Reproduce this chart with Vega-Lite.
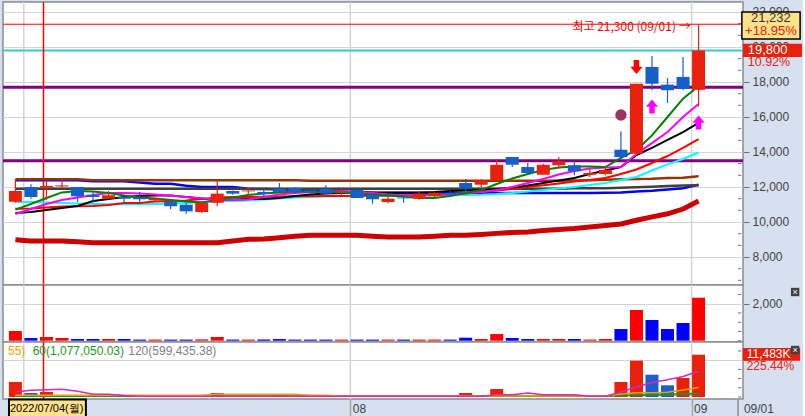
{
"$schema":"https://vega.github.io/schema/vega-lite/v6.json",
"background":"#d6e0ee",
"padding":0,
"spacing":0,
"bounds":"flush",
"config":{"view":{"fill":"white","stroke":"#8c8c8c","strokeWidth":1.5},"text":{"font":"Liberation Sans"},"axis":{"labelFont":"Liberation Sans","labelColor":"#444444","tickColor":"#707070","gridColor":"#d4d4d4","gridWidth":1}},
"datasets":{"d":[
{"i":0,"o":11150,"h":12440,"l":11100,"c":11770,"vol":524,"ind":4073,"id":"up","m5":10710,"m10":10460,"m20":10510,"m40":10760,"m60":11140,"m120":12440,"m150":11900,"m200":12380,"m480":8990,"e1":1358,"e2":462,"e3":300,"e4":200},
{"i":1,"o":12000,"h":12150,"l":11330,"c":11430,"vol":146,"ind":1086,"id":"dn","m5":11030,"m10":10740,"m20":10570,"m40":10770,"m60":11140,"m120":12440,"m150":11900,"m200":12380,"m480":8910,"e1":1800,"e2":462,"e3":300,"e4":200},
{"i":2,"o":11960,"h":12380,"l":11240,"c":12060,"vol":200,"ind":1358,"id":"up","m5":11370,"m10":11030,"m20":10690,"m40":10830,"m60":11110,"m120":12440,"m150":11900,"m200":12380,"m480":8910,"e1":1980,"e2":462,"e3":300,"e4":200},
{"i":3,"o":12030,"h":12383,"l":11880,"c":12090,"vol":146,"ind":540,"id":"dn","m5":11690,"m10":11260,"m20":10800,"m40":10890,"m60":11090,"m120":12440,"m150":11900,"m200":12380,"m480":8910,"e1":2090,"e2":462,"e3":300,"e4":200},
{"i":4,"o":12000,"h":12000,"l":11140,"c":11470,"vol":92,"ind":400,"id":"dn","m5":11770,"m10":11400,"m20":10910,"m40":10900,"m60":11060,"m120":12440,"m150":11900,"m200":12380,"m480":8870,"e1":1550,"e2":462,"e3":300,"e4":200},
{"i":5,"o":11530,"h":11710,"l":11050,"c":11430,"vol":92,"ind":450,"id":"up","m5":11740,"m10":11540,"m20":11200,"m40":10910,"m60":11030,"m120":12380,"m150":11900,"m200":12330,"m480":8820,"e1":733,"e2":462,"e3":300,"e4":200},
{"i":6,"o":11330,"h":11770,"l":11330,"c":11530,"vol":92,"ind":500,"id":"up","m5":11660,"m10":11660,"m20":11310,"m40":10970,"m60":11010,"m120":12380,"m150":11900,"m200":12330,"m480":8820,"e1":733,"e2":462,"e3":300,"e4":200},
{"i":7,"o":11430,"h":11430,"l":11050,"c":11330,"vol":92,"ind":300,"id":"dn","m5":11510,"m10":11660,"m20":11430,"m40":11090,"m60":11010,"m120":12380,"m150":11900,"m200":12330,"m480":8820,"e1":400,"e2":462,"e3":300,"e4":200},
{"i":8,"o":11400,"h":11710,"l":11050,"c":11300,"vol":60,"ind":250,"id":"dn","m5":11400,"m10":11630,"m20":11490,"m40":11090,"m60":11010,"m120":12380,"m150":11900,"m200":12250,"m480":8820,"e1":190,"e2":462,"e3":300,"e4":200},
{"i":9,"o":11240,"h":11400,"l":11200,"c":11330,"vol":60,"ind":300,"id":"up","m5":11340,"m10":11570,"m20":11510,"m40":11170,"m60":11030,"m120":12380,"m150":11900,"m200":12190,"m480":8820,"e1":190,"e2":462,"e3":300,"e4":200},
{"i":10,"o":11140,"h":11300,"l":10730,"c":10900,"vol":60,"ind":350,"id":"up","m5":11260,"m10":11510,"m20":11510,"m40":11200,"m60":11060,"m120":12380,"m150":11900,"m200":12190,"m480":8820,"e1":190,"e2":462,"e3":300,"e4":200},
{"i":11,"o":10990,"h":11100,"l":10470,"c":10610,"vol":60,"ind":300,"id":"dn","m5":11170,"m10":11430,"m20":11430,"m40":11230,"m60":11090,"m120":12380,"m150":11900,"m200":12070,"m480":8820,"e1":190,"e2":462,"e3":300,"e4":200},
{"i":12,"o":10570,"h":11150,"l":10520,"c":11090,"vol":70,"ind":400,"id":"up","m5":11110,"m10":11340,"m20":11340,"m40":11310,"m60":11140,"m120":12380,"m150":11900,"m200":12000,"m480":8820,"e1":190,"e2":462,"e3":300,"e4":200},
{"i":13,"o":11100,"h":12380,"l":10900,"c":11620,"vol":200,"ind":1086,"id":"up","m5":11260,"m10":11290,"m20":11260,"m40":11400,"m60":11170,"m120":12380,"m150":11900,"m200":12000,"m480":8820,"e1":190,"e2":733,"e3":300,"e4":200},
{"i":14,"o":11770,"h":11800,"l":11560,"c":11620,"vol":60,"ind":300,"id":"dn","m5":11400,"m10":11260,"m20":11290,"m40":11430,"m60":11200,"m120":12380,"m150":11900,"m200":12000,"m480":8910,"e1":190,"e2":733,"e3":300,"e4":200},
{"i":15,"o":11750,"h":12000,"l":11430,"c":11800,"vol":60,"ind":350,"id":"up","m5":11540,"m10":11290,"m20":11310,"m40":11430,"m60":11230,"m120":12380,"m150":11900,"m200":11900,"m480":9010,"e1":190,"e2":733,"e3":300,"e4":200},
{"i":16,"o":11710,"h":11840,"l":11430,"c":11620,"vol":60,"ind":300,"id":"dn","m5":11630,"m10":11430,"m20":11310,"m40":11440,"m60":11290,"m120":12380,"m150":11900,"m200":11880,"m480":9030,"e1":190,"e2":733,"e3":300,"e4":200},
{"i":17,"o":11900,"h":12230,"l":11700,"c":11710,"vol":90,"ind":400,"id":"up","m5":11690,"m10":11570,"m20":11370,"m40":11460,"m60":11340,"m120":12380,"m150":11900,"m200":11860,"m480":9100,"e1":190,"e2":733,"e3":300,"e4":200},
{"i":18,"o":11940,"h":12000,"l":11620,"c":11710,"vol":60,"ind":300,"id":"dn","m5":11740,"m10":11660,"m20":11490,"m40":11470,"m60":11400,"m120":12380,"m150":11900,"m200":11840,"m480":9180,"e1":190,"e2":733,"e3":300,"e4":200},
{"i":19,"o":11800,"h":11850,"l":11600,"c":11700,"vol":60,"ind":250,"id":"dn","m5":11740,"m10":11710,"m20":11570,"m40":11470,"m60":11430,"m120":12360,"m150":11900,"m200":11790,"m480":9240,"e1":190,"e2":462,"e3":300,"e4":200},
{"i":20,"o":11900,"h":12100,"l":11560,"c":11620,"vol":60,"ind":300,"id":"up","m5":11710,"m10":11740,"m20":11630,"m40":11490,"m60":11450,"m120":12360,"m150":11900,"m200":11760,"m480":9240,"e1":190,"e2":462,"e3":300,"e4":200},
{"i":21,"o":11680,"h":11940,"l":11520,"c":11750,"vol":60,"ind":250,"id":"dn","m5":11690,"m10":11740,"m20":11660,"m40":11490,"m60":11470,"m120":12360,"m150":11900,"m200":11740,"m480":9240,"e1":190,"e2":271,"e3":300,"e4":200},
{"i":22,"o":11840,"h":11850,"l":11370,"c":11370,"vol":60,"ind":300,"id":"up","m5":11630,"m10":11710,"m20":11660,"m40":11500,"m60":11490,"m120":12360,"m150":11900,"m200":11720,"m480":9240,"e1":190,"e2":271,"e3":300,"e4":200},
{"i":23,"o":11530,"h":11530,"l":11050,"c":11300,"vol":60,"ind":250,"id":"dn","m5":11570,"m10":11660,"m20":11660,"m40":11510,"m60":11490,"m120":12360,"m150":11900,"m200":11690,"m480":9190,"e1":190,"e2":271,"e3":300,"e4":200},
{"i":24,"o":11140,"h":11430,"l":11050,"c":11330,"vol":60,"ind":300,"id":"up","m5":11510,"m10":11570,"m20":11690,"m40":11520,"m60":11490,"m120":12360,"m150":11900,"m200":11660,"m480":9140,"e1":190,"e2":271,"e3":300,"e4":200},
{"i":25,"o":11400,"h":11420,"l":11100,"c":11350,"vol":60,"ind":250,"id":"dn","m5":11460,"m10":11510,"m20":11690,"m40":11530,"m60":11500,"m120":12360,"m150":11900,"m200":11660,"m480":9140,"e1":190,"e2":271,"e3":300,"e4":200},
{"i":26,"o":11330,"h":11770,"l":11270,"c":11620,"vol":60,"ind":300,"id":"up","m5":11370,"m10":11510,"m20":11690,"m40":11540,"m60":11510,"m120":12360,"m150":11900,"m200":11660,"m480":9140,"e1":190,"e2":271,"e3":300,"e4":200},
{"i":27,"o":11470,"h":11700,"l":11420,"c":11670,"vol":60,"ind":250,"id":"dn","m5":11370,"m10":11540,"m20":11710,"m40":11550,"m60":11530,"m120":12360,"m150":11900,"m200":11660,"m480":9190,"e1":190,"e2":271,"e3":300,"e4":200},
{"i":28,"o":11660,"h":11770,"l":11430,"c":11580,"vol":60,"ind":280,"id":"up","m5":11490,"m10":11600,"m20":11770,"m40":11570,"m60":11530,"m120":12360,"m150":11900,"m200":11660,"m480":9240,"e1":190,"e2":271,"e3":300,"e4":200},
{"i":29,"o":12230,"h":12460,"l":11750,"c":11900,"vol":162,"ind":1086,"id":"up","m5":11660,"m10":11660,"m20":11800,"m40":11630,"m60":11540,"m120":12360,"m150":11900,"m200":11660,"m480":9240,"e1":190,"e2":271,"e3":300,"e4":200},
{"i":30,"o":12130,"h":12460,"l":11970,"c":12380,"vol":92,"ind":460,"id":"dn","m5":11830,"m10":11710,"m20":11830,"m40":11710,"m60":11560,"m120":12360,"m150":11900,"m200":11660,"m480":9290,"e1":190,"e2":271,"e3":300,"e4":200},
{"i":31,"o":12380,"h":13580,"l":12380,"c":13270,"vol":360,"ind":2172,"id":"up","m5":12170,"m10":11830,"m20":11890,"m40":11800,"m60":11600,"m120":12360,"m150":11900,"m200":11660,"m480":9350,"e1":624,"e2":271,"e3":300,"e4":200},
{"i":32,"o":13710,"h":13710,"l":13140,"c":13270,"vol":146,"ind":630,"id":"dn","m5":12490,"m10":12000,"m20":11970,"m40":11890,"m60":11660,"m120":12360,"m150":11900,"m200":11660,"m480":9400,"e1":624,"e2":271,"e3":300,"e4":200},
{"i":33,"o":13140,"h":13370,"l":12800,"c":12800,"vol":92,"ind":270,"id":"dn","m5":12740,"m10":12230,"m20":12090,"m40":12000,"m60":11740,"m120":12360,"m150":11900,"m200":11660,"m480":9430,"e1":1086,"e2":271,"e3":300,"e4":200},
{"i":34,"o":12700,"h":13330,"l":12700,"c":13270,"vol":92,"ind":300,"id":"up","m5":12970,"m10":12460,"m20":12230,"m40":12100,"m60":11830,"m120":12360,"m150":11900,"m200":11660,"m480":9510,"e1":624,"e2":271,"e3":300,"e4":200},
{"i":35,"o":13240,"h":13710,"l":13050,"c":13470,"vol":92,"ind":460,"id":"up","m5":13110,"m10":12710,"m20":12370,"m40":12200,"m60":11910,"m120":12360,"m150":11900,"m200":11660,"m480":9570,"e1":624,"e2":271,"e3":300,"e4":200},
{"i":36,"o":13240,"h":13470,"l":12670,"c":12900,"vol":92,"ind":270,"id":"dn","m5":13170,"m10":12910,"m20":12510,"m40":12310,"m60":12000,"m120":12370,"m150":11930,"m200":11660,"m480":9630,"e1":624,"e2":271,"e3":300,"e4":200},
{"i":37,"o":12700,"h":13090,"l":12570,"c":12800,"vol":60,"ind":250,"id":"dn","m5":13170,"m10":13060,"m20":12740,"m40":12400,"m60":12110,"m120":12390,"m150":11930,"m200":11660,"m480":9710,"e1":190,"e2":271,"e3":300,"e4":200},
{"i":38,"o":12740,"h":13200,"l":12670,"c":12970,"vol":92,"ind":360,"id":"up","m5":13140,"m10":13110,"m20":12940,"m40":12510,"m60":12230,"m120":12420,"m150":11930,"m200":11670,"m480":9800,"e1":190,"e2":271,"e3":300,"e4":200},
{"i":39,"o":14130,"h":15180,"l":13620,"c":13710,"vol":632,"ind":4073,"id":"up","m5":13660,"m10":13140,"m20":13140,"m40":12740,"m60":12400,"m120":12440,"m150":11950,"m200":11690,"m480":9890,"e1":1358,"e2":815,"e3":420,"e4":280},
{"i":40,"o":13900,"h":17900,"l":13900,"c":17900,"vol":1659,"ind":9855,"id":"up","m5":14110,"m10":13890,"m20":13830,"m40":13000,"m60":12570,"m120":12450,"m150":11980,"m200":11740,"m480":10100,"e1":2715,"e2":1167,"e3":600,"e4":360},
{"i":41,"o":18860,"h":19490,"l":17530,"c":17900,"vol":1119,"ind":6054,"id":"dn","m5":14950,"m10":14510,"m20":14230,"m40":13370,"m60":12940,"m120":12470,"m150":12020,"m200":11790,"m480":10290,"e1":3937,"e2":1167,"e3":700,"e4":420},
{"i":42,"o":17850,"h":18230,"l":16800,"c":17530,"vol":632,"ind":3177,"id":"dn","m5":16000,"m10":15140,"m20":14690,"m40":13770,"m60":13290,"m120":12510,"m150":12060,"m200":11860,"m480":10470,"e1":4670,"e2":1276,"e3":800,"e4":480},
{"i":43,"o":18290,"h":19430,"l":17530,"c":17600,"vol":957,"ind":5159,"id":"up","m5":17050,"m10":16000,"m20":15140,"m40":14230,"m60":13600,"m120":12530,"m150":12080,"m200":11930,"m480":10740,"e1":5566,"e2":1900,"e3":900,"e4":540},
{"i":44,"o":17550,"h":21300,"l":16600,"c":19800,"vol":2324,"ind":11483,"id":"up","m5":17770,"m10":16740,"m20":15660,"m40":14740,"m60":13970,"m120":12610,"m150":12100,"m200":12130,"m480":11200,"e1":6978,"e2":2580,"e3":1000,"e4":599}
]},
"vconcat":[
{"width":740,"height":283,"data":{"name":"d"},"layer":[
 {"data":{"values":[{"g":0.54},{"g":21.57},{"g":43.55}]},"mark":{"type":"rule","color":"#d4d4d4","strokeWidth":1.5},"encoding":{"x":{"field":"g","type":"quantitative","scale":{"domain":[-0.4765,46.54],"nice":false,"zero":false},"axis":null}}},
 {"data":{"values":[{}]},"mark":{"type":"rule","color":"#800080","strokeWidth":3},"encoding":{"y":{"datum":17700,"type":"quantitative","scale":{"domain":[6400,22571],"nice":false,"zero":false},"axis":{"orient":"right","title":null,"values":[8000,10000,12000,14000,16000,18000,20000,22000],"labelExpr":"format(datum.value, ',')","tickSize":6,"grid":true,"domain":false,"labelFontSize":12,"labelPadding":3,"labelOverlap":false,"labelFlush":false,"labelBound":false}}}},
 {"data":{"values":[{"t":6666.667},{"t":7333.333},{"t":8666.667},{"t":9333.333},{"t":10666.667},{"t":11333.333},{"t":12666.667},{"t":13333.333},{"t":14666.667},{"t":15333.333},{"t":16666.667},{"t":17333.333},{"t":18666.667},{"t":19333.333},{"t":20666.667},{"t":21333.333}]},"mark":{"type":"rule","color":"#707070","strokeWidth":1,"clip":false},"encoding":{"x":{"datum":46.54,"type":"quantitative","scale":{"domain":[-0.4765,46.54],"nice":false,"zero":false},"axis":null},"x2":{"datum":46.75},"y":{"field":"t","type":"quantitative","scale":{"domain":[6400,22571],"nice":false,"zero":false}}}},
 {"data":{"values":[{}]},"mark":{"type":"rule","color":"#800080","strokeWidth":3},"encoding":{"y":{"datum":13500,"type":"quantitative","scale":{"domain":[6400,22571],"nice":false,"zero":false}}}},
 {"data":{"values":[{}]},"mark":{"type":"rule","color":"#33cccc","strokeWidth":2},"encoding":{"y":{"datum":19800,"type":"quantitative","scale":{"domain":[6400,22571],"nice":false,"zero":false}}}},
 {"data":{"values":[{}]},"mark":{"type":"rule","color":"#ff0000","strokeWidth":1},"encoding":{"y":{"datum":21300,"type":"quantitative","scale":{"domain":[6400,22571],"nice":false,"zero":false}}}},
 {"data":{"values":[{}]},"mark":{"type":"rule","color":"#ff0000","strokeWidth":1.5},"encoding":{"x":{"datum":1.81,"type":"quantitative","scale":{"domain":[-0.4765,46.54],"nice":false,"zero":false},"axis":null}}},
 {"mark":{"type":"line","color":"#cc0000","strokeWidth":5,"clip":true},"encoding":{"x":{"field":"i","type":"quantitative","scale":{"domain":[-0.4765,46.54],"nice":false,"zero":false},"axis":null},"y":{"field":"m480","type":"quantitative","scale":{"domain":[6400,22571],"nice":false,"zero":false}}}},
 {"mark":{"type":"line","color":"#0000ff","strokeWidth":2.5,"clip":true},"encoding":{"x":{"field":"i","type":"quantitative","scale":{"domain":[-0.4765,46.54],"nice":false,"zero":false},"axis":null},"y":{"field":"m200","type":"quantitative","scale":{"domain":[6400,22571],"nice":false,"zero":false}}}},
 {"mark":{"type":"line","color":"#404040","strokeWidth":2.5,"clip":true},"encoding":{"x":{"field":"i","type":"quantitative","scale":{"domain":[-0.4765,46.54],"nice":false,"zero":false},"axis":null},"y":{"field":"m150","type":"quantitative","scale":{"domain":[6400,22571],"nice":false,"zero":false}}}},
 {"mark":{"type":"line","color":"#993300","strokeWidth":2.5,"clip":true},"encoding":{"x":{"field":"i","type":"quantitative","scale":{"domain":[-0.4765,46.54],"nice":false,"zero":false},"axis":null},"y":{"field":"m120","type":"quantitative","scale":{"domain":[6400,22571],"nice":false,"zero":false}}}},
 {"mark":{"type":"line","color":"#00ffff","strokeWidth":2,"clip":true},"encoding":{"x":{"field":"i","type":"quantitative","scale":{"domain":[-0.4765,46.54],"nice":false,"zero":false},"axis":null},"y":{"field":"m60","type":"quantitative","scale":{"domain":[6400,22571],"nice":false,"zero":false}}}},
 {"mark":{"type":"line","color":"#ff0000","strokeWidth":2,"clip":true},"encoding":{"x":{"field":"i","type":"quantitative","scale":{"domain":[-0.4765,46.54],"nice":false,"zero":false},"axis":null},"y":{"field":"m40","type":"quantitative","scale":{"domain":[6400,22571],"nice":false,"zero":false}}}},
 {"mark":{"type":"line","color":"#000000","strokeWidth":2,"clip":true},"encoding":{"x":{"field":"i","type":"quantitative","scale":{"domain":[-0.4765,46.54],"nice":false,"zero":false},"axis":null},"y":{"field":"m20","type":"quantitative","scale":{"domain":[6400,22571],"nice":false,"zero":false}}}},
 {"mark":{"type":"line","color":"#ff00ff","strokeWidth":2,"clip":true},"encoding":{"x":{"field":"i","type":"quantitative","scale":{"domain":[-0.4765,46.54],"nice":false,"zero":false},"axis":null},"y":{"field":"m10","type":"quantitative","scale":{"domain":[6400,22571],"nice":false,"zero":false}}}},
 {"mark":{"type":"line","color":"#008000","strokeWidth":2,"clip":true},"encoding":{"x":{"field":"i","type":"quantitative","scale":{"domain":[-0.4765,46.54],"nice":false,"zero":false},"axis":null},"y":{"field":"m5","type":"quantitative","scale":{"domain":[6400,22571],"nice":false,"zero":false}}}},
 {"mark":{"type":"rule","strokeWidth":1.2},"encoding":{"x":{"field":"i","type":"quantitative","scale":{"domain":[-0.4765,46.54],"nice":false,"zero":false},"axis":null},"y":{"field":"l","type":"quantitative","scale":{"domain":[6400,22571],"nice":false,"zero":false}},"y2":{"field":"h"},"color":{"condition":{"test":"datum.c >= datum.o","value":"#e8200c"},"value":"#1560c8"}}},
 {"mark":{"type":"bar","size":13},"encoding":{"x":{"field":"i","type":"quantitative","scale":{"domain":[-0.4765,46.54],"nice":false,"zero":false},"axis":null},"y":{"field":"o","type":"quantitative","scale":{"domain":[6400,22571],"nice":false,"zero":false}},"y2":{"field":"c"},"color":{"condition":{"test":"datum.c >= datum.o","value":"#e8200c"},"value":"#1560c8"}}},
 {"data":{"values":[{"i":39,"p":16110}]},"mark":{"type":"point","shape":"circle","filled":true,"color":"#993366","size":130,"opacity":1},"encoding":{"x":{"field":"i","type":"quantitative","scale":{"domain":[-0.4765,46.54],"nice":false,"zero":false},"axis":null},"y":{"field":"p","type":"quantitative","scale":{"domain":[6400,22571],"nice":false,"zero":false}}}},
 {"data":{"values":[{"i":40,"p":18857}]},"mark":{"type":"point","shape":"M-0.45,-1.15L0.45,-1.15L0.45,-0.05L1,-0.05L0,1.15L-1,-0.05L-0.45,-0.05Z","filled":true,"color":"#ff0000","size":150,"opacity":1,"strokeWidth":0},"encoding":{"x":{"field":"i","type":"quantitative","scale":{"domain":[-0.4765,46.54],"nice":false,"zero":false},"axis":null},"y":{"field":"p","type":"quantitative","scale":{"domain":[6400,22571],"nice":false,"zero":false}}}},
 {"data":{"values":[{"i":41,"p":16600},{"i":44,"p":15686}]},"mark":{"type":"point","shape":"M-0.45,1.15L0.45,1.15L0.45,0.05L1,0.05L0,-1.15L-1,0.05L-0.45,0.05Z","filled":true,"color":"#ff00ff","size":150,"opacity":1,"strokeWidth":0},"encoding":{"x":{"field":"i","type":"quantitative","scale":{"domain":[-0.4765,46.54],"nice":false,"zero":false},"axis":null},"y":{"field":"p","type":"quantitative","scale":{"domain":[6400,22571],"nice":false,"zero":false}}}},
 {"data":{"values":[{}]},"mark":{"type":"text","text":"최고 21,300 (09/01) →","align":"right","baseline":"middle","font":"Noto Sans CJK KR","fontSize":12,"color":"#ff0000"},"encoding":{"x":{"datum":43.49,"type":"quantitative","scale":{"domain":[-0.4765,46.54],"nice":false,"zero":false},"axis":null},"y":{"datum":21130,"type":"quantitative","scale":{"domain":[6400,22571],"nice":false,"zero":false}}}},
 {"data":{"values":[{}]},"mark":{"type":"rect","fill":"#ffe28a","stroke":"#000000","strokeWidth":1.5,"clip":false},"encoding":{"x":{"datum":46.79,"type":"quantitative","scale":{"domain":[-0.4765,46.54],"nice":false,"zero":false},"axis":null},"x2":{"datum":50.54},"y":{"datum":22000,"type":"quantitative","scale":{"domain":[6400,22571],"nice":false,"zero":false}},"y2":{"datum":20457}}},
 {"data":{"values":[{}]},"mark":{"type":"text","text":"21,232","align":"center","baseline":"middle","fontSize":13,"color":"#333333","clip":false},"encoding":{"x":{"datum":48.66,"type":"quantitative","scale":{"domain":[-0.4765,46.54],"nice":false,"zero":false},"axis":null},"y":{"datum":21657,"type":"quantitative","scale":{"domain":[6400,22571],"nice":false,"zero":false}}}},
 {"data":{"values":[{}]},"mark":{"type":"text","text":"+18.95%","align":"center","baseline":"middle","fontSize":13,"color":"#e8200c","clip":false},"encoding":{"x":{"datum":48.66,"type":"quantitative","scale":{"domain":[-0.4765,46.54],"nice":false,"zero":false},"axis":null},"y":{"datum":20886,"type":"quantitative","scale":{"domain":[6400,22571],"nice":false,"zero":false}}}},
 {"data":{"values":[{}]},"mark":{"type":"rect","fill":"#e8200c","clip":false},"encoding":{"x":{"datum":46.85,"type":"quantitative","scale":{"domain":[-0.4765,46.54],"nice":false,"zero":false},"axis":null},"x2":{"datum":50.66},"y":{"datum":20189,"type":"quantitative","scale":{"domain":[6400,22571],"nice":false,"zero":false}},"y2":{"datum":19429}}},
 {"data":{"values":[{}]},"mark":{"type":"text","text":"19,800","align":"left","baseline":"middle","fontSize":13,"color":"#ffffff","clip":false},"encoding":{"x":{"datum":47.17,"type":"quantitative","scale":{"domain":[-0.4765,46.54],"nice":false,"zero":false},"axis":null},"y":{"datum":19829,"type":"quantitative","scale":{"domain":[6400,22571],"nice":false,"zero":false}}}},
 {"data":{"values":[{}]},"mark":{"type":"text","text":"10.92%","align":"left","baseline":"middle","fontSize":12.5,"color":"#e8200c","clip":false},"encoding":{"x":{"datum":47.17,"type":"quantitative","scale":{"domain":[-0.4765,46.54],"nice":false,"zero":false},"axis":null},"y":{"datum":19143,"type":"quantitative","scale":{"domain":[6400,22571],"nice":false,"zero":false}}}}
]},
{"width":740,"height":57,"data":{"name":"d"},"layer":[
 {"data":{"values":[{"g":0.54},{"g":21.57},{"g":43.55}]},"mark":{"type":"rule","color":"#d4d4d4","strokeWidth":1.5},"encoding":{"x":{"field":"g","type":"quantitative","scale":{"domain":[-0.4765,46.54],"nice":false,"zero":false},"axis":null}}},
 {"data":{"values":[{}]},"mark":{"type":"rule","color":"#ff0000","strokeWidth":1.5},"encoding":{"x":{"datum":1.81,"type":"quantitative","scale":{"domain":[-0.4765,46.54],"nice":false,"zero":false},"axis":null}}},
 {"mark":{"type":"bar","size":13},"encoding":{"x":{"field":"i","type":"quantitative","scale":{"domain":[-0.4765,46.54],"nice":false,"zero":false},"axis":null},"y":{"field":"vol","type":"quantitative","scale":{"domain":[-70,3011],"nice":false,"zero":false},"axis":{"orient":"right","title":null,"values":[2000],"labelExpr":"format(datum.value, ',')","tickSize":6,"grid":true,"domain":false,"labelFontSize":12,"labelPadding":3,"labelOverlap":false,"labelFlush":false,"labelBound":false}},"y2":{"datum":0},"color":{"condition":{"test":"datum.c >= datum.o","value":"#ff0000"},"value":"#0000ff"}}},
 {"data":{"values":[{"t":0},{"t":500},{"t":1000},{"t":1500},{"t":2500}]},"mark":{"type":"rule","color":"#707070","strokeWidth":1,"clip":false},"encoding":{"x":{"datum":46.54,"type":"quantitative","scale":{"domain":[-0.4765,46.54],"nice":false,"zero":false},"axis":null},"x2":{"datum":46.75},"y":{"field":"t","type":"quantitative","scale":{"domain":[-70,3011],"nice":false,"zero":false}}}},
 {"data":{"values":[{}]},"mark":{"type":"square","color":"#404040","size":70,"opacity":1,"clip":false},"encoding":{"x":{"datum":50.22,"type":"quantitative","scale":{"domain":[-0.4765,46.54],"nice":false,"zero":false},"axis":null},"y":{"datum":2632,"type":"quantitative","scale":{"domain":[-70,3011],"nice":false,"zero":false}}}},
 {"data":{"values":[{}]},"mark":{"type":"text","text":"×","align":"center","baseline":"middle","fontSize":9,"color":"#ffffff","clip":false},"encoding":{"x":{"datum":50.22,"type":"quantitative","scale":{"domain":[-0.4765,46.54],"nice":false,"zero":false},"axis":null},"y":{"datum":2632,"type":"quantitative","scale":{"domain":[-70,3011],"nice":false,"zero":false}}}}
]},
{"width":740,"height":57,"data":{"name":"d"},"layer":[
 {"data":{"values":[{"g":0.54},{"g":21.57},{"g":43.55}]},"mark":{"type":"rule","color":"#d4d4d4","strokeWidth":1.5},"encoding":{"x":{"field":"g","type":"quantitative","scale":{"domain":[-0.4765,46.54],"nice":false,"zero":false}}}},
 {"data":{"values":[{}]},"mark":{"type":"rule","color":"#ff0000","strokeWidth":1.5},"encoding":{"x":{"datum":1.81,"type":"quantitative","scale":{"domain":[-0.4765,46.54],"nice":false,"zero":false}}}},
 {"mark":{"type":"bar","size":13},"encoding":{"x":{"field":"i","type":"quantitative","scale":{"domain":[-0.4765,46.54],"nice":false,"zero":false},"axis":{"orient":"bottom","title":null,"values":[21.57,43.55],"labelExpr":"datum.value < 30 ? '08' : '09'","tickSize":19,"tickColor":"#a8a8a8","tickWidth":1.5,"labelAlign":"left","labelBaseline":"middle","labelPadding":-10,"labelOffset":2,"labelFontSize":12,"labelColor":"#444444","domain":false,"grid":false,"labelFlush":false,"labelOverlap":false,"labelBound":false}},"y":{"field":"ind","type":"quantitative","scale":{"domain":[-543,14933],"nice":false,"zero":false},"axis":{"orient":"right","title":null,"values":[10000],"labels":false,"tickSize":6,"grid":true,"domain":false}},"y2":{"datum":0},"color":{"field":"id","type":"nominal","scale":{"domain":["up","dn"],"range":["#e8200c","#1a5fcc"]},"legend":null}}},
 {"data":{"values":[{"t":0},{"t":2500},{"t":5000},{"t":7500},{"t":12500}]},"mark":{"type":"rule","color":"#707070","strokeWidth":1,"clip":false},"encoding":{"x":{"datum":46.54,"type":"quantitative","scale":{"domain":[-0.4765,46.54],"nice":false,"zero":false}},"x2":{"datum":46.75},"y":{"field":"t","type":"quantitative","scale":{"domain":[-543,14933],"nice":false,"zero":false}}}},
 {"mark":{"type":"line","color":"#606060","strokeWidth":1,"clip":true},"encoding":{"x":{"field":"i","type":"quantitative","scale":{"domain":[-0.4765,46.54],"nice":false,"zero":false}},"y":{"field":"e4","type":"quantitative","scale":{"domain":[-543,14933],"nice":false,"zero":false}}}},
 {"mark":{"type":"line","color":"#1a9a1a","strokeWidth":1.5,"clip":true},"encoding":{"x":{"field":"i","type":"quantitative","scale":{"domain":[-0.4765,46.54],"nice":false,"zero":false}},"y":{"field":"e3","type":"quantitative","scale":{"domain":[-543,14933],"nice":false,"zero":false}}}},
 {"mark":{"type":"line","color":"#f0a000","strokeWidth":1.5,"clip":true},"encoding":{"x":{"field":"i","type":"quantitative","scale":{"domain":[-0.4765,46.54],"nice":false,"zero":false}},"y":{"field":"e2","type":"quantitative","scale":{"domain":[-543,14933],"nice":false,"zero":false}}}},
 {"mark":{"type":"line","color":"#dc28b4","strokeWidth":1.5,"clip":true},"encoding":{"x":{"field":"i","type":"quantitative","scale":{"domain":[-0.4765,46.54],"nice":false,"zero":false}},"y":{"field":"e1","type":"quantitative","scale":{"domain":[-543,14933],"nice":false,"zero":false}}}},
 {"data":{"values":[{}]},"mark":{"type":"text","text":"55)","align":"left","baseline":"middle","fontSize":12,"color":"#f0a000"},"encoding":{"x":{"datum":-0.4765,"type":"quantitative","scale":{"domain":[-0.4765,46.54],"nice":false,"zero":false}},"y":{"datum":12489,"type":"quantitative","scale":{"domain":[-543,14933],"nice":false,"zero":false}}}},
 {"data":{"values":[{}]},"mark":{"type":"text","text":"60(1,077,050.03)","align":"left","baseline":"middle","fontSize":12,"color":"#1a9a1a"},"encoding":{"x":{"datum":1.11,"type":"quantitative","scale":{"domain":[-0.4765,46.54],"nice":false,"zero":false}},"y":{"datum":12489,"type":"quantitative","scale":{"domain":[-543,14933],"nice":false,"zero":false}}}},
 {"data":{"values":[{}]},"mark":{"type":"text","text":"120(599,435.38)","align":"left","baseline":"middle","fontSize":12,"color":"#808080"},"encoding":{"x":{"datum":7.27,"type":"quantitative","scale":{"domain":[-0.4765,46.54],"nice":false,"zero":false}},"y":{"datum":12489,"type":"quantitative","scale":{"domain":[-543,14933],"nice":false,"zero":false}}}},
 {"data":{"values":[{}]},"mark":{"type":"rect","fill":"#e8200c","clip":false},"encoding":{"x":{"datum":46.85,"type":"quantitative","scale":{"domain":[-0.4765,46.54],"nice":false,"zero":false}},"x2":{"datum":50.54},"y":{"datum":13304,"type":"quantitative","scale":{"domain":[-543,14933],"nice":false,"zero":false}},"y2":{"datum":9855}}},
 {"data":{"values":[{}]},"mark":{"type":"text","text":"11,483K","align":"left","baseline":"middle","fontSize":12,"color":"#ffffff","clip":false},"encoding":{"x":{"datum":47.1,"type":"quantitative","scale":{"domain":[-0.4765,46.54],"nice":false,"zero":false}},"y":{"datum":11675,"type":"quantitative","scale":{"domain":[-543,14933],"nice":false,"zero":false}}}},
 {"data":{"values":[{}]},"mark":{"type":"text","text":"225.44%","align":"left","baseline":"middle","fontSize":12,"color":"#e8200c","clip":false},"encoding":{"x":{"datum":47.1,"type":"quantitative","scale":{"domain":[-0.4765,46.54],"nice":false,"zero":false}},"y":{"datum":8417,"type":"quantitative","scale":{"domain":[-543,14933],"nice":false,"zero":false}}}},
 {"data":{"values":[{}]},"mark":{"type":"square","color":"#404040","size":70,"opacity":1,"clip":false},"encoding":{"x":{"datum":50.22,"type":"quantitative","scale":{"domain":[-0.4765,46.54],"nice":false,"zero":false}},"y":{"datum":12760,"type":"quantitative","scale":{"domain":[-543,14933],"nice":false,"zero":false}}}},
 {"data":{"values":[{}]},"mark":{"type":"text","text":"×","align":"center","baseline":"middle","fontSize":9,"color":"#ffffff","clip":false},"encoding":{"x":{"datum":50.22,"type":"quantitative","scale":{"domain":[-0.4765,46.54],"nice":false,"zero":false}},"y":{"datum":12760,"type":"quantitative","scale":{"domain":[-543,14933],"nice":false,"zero":false}}}},
 {"data":{"values":[{}]},"mark":{"type":"rule","color":"#8c8c8c","strokeWidth":1.5,"clip":false},"encoding":{"x":{"datum":46.54,"type":"quantitative","scale":{"domain":[-0.4765,46.54],"nice":false,"zero":false}},"y":{"datum":-679,"type":"quantitative","scale":{"domain":[-543,14933],"nice":false,"zero":false}},"y2":{"datum":-5700}}},
 {"data":{"values":[{}]},"mark":{"type":"rect","fill":"#ffe28a","stroke":"#000000","strokeWidth":2,"clip":false},"encoding":{"x":{"datum":-0.413,"type":"quantitative","scale":{"domain":[-0.4765,46.54],"nice":false,"zero":false}},"x2":{"datum":4.54},"y":{"datum":-679,"type":"quantitative","scale":{"domain":[-543,14933],"nice":false,"zero":false}},"y2":{"datum":-5430}}},
 {"data":{"values":[{}]},"mark":{"type":"text","text":"2022/07/04(월)","align":"left","baseline":"middle","font":"Liberation Sans","fontSize":11,"color":"#000000","clip":false},"encoding":{"x":{"datum":-0.35,"type":"quantitative","scale":{"domain":[-0.4765,46.54],"nice":false,"zero":false}},"y":{"datum":-3258,"type":"quantitative","scale":{"domain":[-543,14933],"nice":false,"zero":false}}}},
 {"data":{"values":[{}]},"mark":{"type":"text","text":"09/01","align":"left","baseline":"middle","fontSize":12,"color":"#444444","clip":false},"encoding":{"x":{"datum":46.92,"type":"quantitative","scale":{"domain":[-0.4765,46.54],"nice":false,"zero":false}},"y":{"datum":-3258,"type":"quantitative","scale":{"domain":[-543,14933],"nice":false,"zero":false}}}}
]}
]
}
